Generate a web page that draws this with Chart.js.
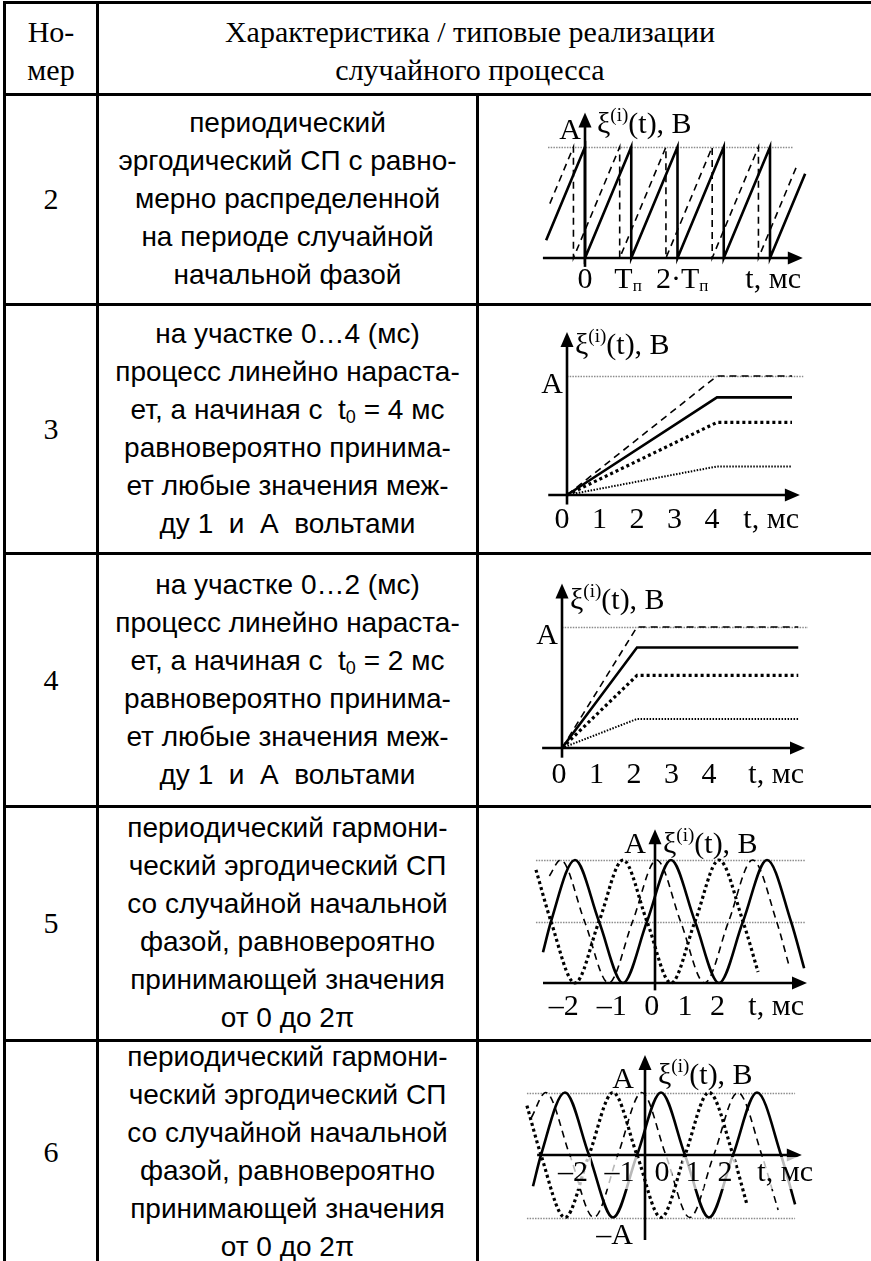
<!DOCTYPE html>
<html>
<head>
<meta charset="utf-8">
<script src="https://cdn.jsdelivr.net/npm/chart.js@4/dist/chart.umd.min.js"></script>
<style>
  body { margin: 0; background: #fff; width: 871px; height: 1261px; overflow: hidden; position: relative; }
  .ln { position: absolute; background: #000; }
  .num { position: absolute; left: 4px; width: 94px; display: flex; align-items: center; justify-content: center;
         font: 30px "Liberation Serif", serif; }
  .desc { position: absolute; left: 98px; width: 379px; display: flex; flex-direction: column; align-items: center;
          justify-content: center; font: 28px "Liberation Sans", sans-serif; line-height: 38px; text-align: center; }
  .desc sub { font-size: 18px; vertical-align: -4px; line-height: 0; }
  .head { position: absolute; font: 30px "Liberation Serif", serif; line-height: 38px; text-align: center; }
  canvas { position: absolute; }
</style>
</head>
<body>

<div class="head" style="left:4px;top:13px;width:94px;">Но-<br>мер</div>
<div class="head" style="left:98px;top:13px;width:744px;">Характеристика / типовые реализации<br>случайного процесса</div>

<div class="num" style="top:94px;height:210px;">2</div>
<div class="desc" style="top:94px;height:210px;">
  <div>периодический</div><div>эргодический СП с равно-</div><div>мерно распределенной</div>
  <div>на периоде случайной</div><div>начальной фазой</div>
</div>

<div class="num" style="top:304px;height:249px;">3</div>
<div class="desc" style="top:304px;height:249px;">
  <div>на участке 0…4 (мс)</div><div>процесс линейно нараста-</div>
  <div>ет, а начиная с&nbsp; t<sub>0</sub> = 4 мс</div><div>равновероятно принима-</div>
  <div>ет любые значения меж-</div><div>ду 1&nbsp; и&nbsp; А&nbsp; вольтами</div>
</div>

<div class="num" style="top:553px;height:253px;">4</div>
<div class="desc" style="top:553px;height:253px;">
  <div>на участке 0…2 (мс)</div><div>процесс линейно нараста-</div>
  <div>ет, а начиная с&nbsp; t<sub>0</sub> = 2 мс</div><div>равновероятно принима-</div>
  <div>ет любые значения меж-</div><div>ду 1&nbsp; и&nbsp; А&nbsp; вольтами</div>
</div>

<div class="num" style="top:806px;height:234px;">5</div>
<div class="desc" style="top:806px;height:234px;">
  <div>периодический гармони-</div><div>ческий эргодический СП</div><div>со случайной начальной</div>
  <div>фазой, равновероятно</div><div>принимающей значения</div><div>от 0 до 2π</div>
</div>

<div class="num" style="top:1040px;height:224px;">6</div>
<div class="desc" style="top:1040px;height:224px;">
  <div>периодический гармони-</div><div>ческий эргодический СП</div><div>со случайной начальной</div>
  <div>фазой, равновероятно</div><div>принимающей значения</div><div>от 0 до 2π</div>
</div>

<canvas id="f2" width="391" height="205" style="left:480px;top:97px;"></canvas>
<canvas id="f3" width="391" height="244" style="left:480px;top:307px;"></canvas>
<canvas id="f4" width="391" height="248" style="left:480px;top:556px;"></canvas>
<canvas id="f5" width="391" height="229" style="left:480px;top:809px;"></canvas>
<canvas id="f6" width="391" height="218" style="left:480px;top:1043px;"></canvas>

<!-- линии таблицы -->
<div class="ln" style="left:3px;top:1px;width:868px;height:3px;"></div>
<div class="ln" style="left:3px;top:93px;width:868px;height:3px;"></div>
<div class="ln" style="left:3px;top:303px;width:868px;height:3px;"></div>
<div class="ln" style="left:3px;top:552px;width:868px;height:3px;"></div>
<div class="ln" style="left:3px;top:805px;width:868px;height:3px;"></div>
<div class="ln" style="left:3px;top:1039px;width:868px;height:3px;"></div>
<div class="ln" style="left:3px;top:1px;width:3px;height:1260px;"></div>
<div class="ln" style="left:96px;top:1px;width:3px;height:1260px;"></div>
<div class="ln" style="left:476px;top:94px;width:3px;height:1167px;"></div>

<script>
// ---- строка 2: пилообразный СП (t в периодах Tп, значения в долях A) ----
const sawSolidT = [-0.84, 0, 0, 1, 1, 2, 2, 3, 3, 4, 4, 4.76];
const sawSolidV = [0.16, 1, 0, 1, 0, 1, 0, 1, 0, 1, 0, 0.76];
const sawDashT = [-0.76, -0.25, -0.25, 0.75, 0.75, 1.75, 1.75, 2.75, 2.75, 3.75, 3.75, 4.58];
const sawDashV = [0.49, 1, 0, 1, 0, 1, 0, 1, 0, 1, 0, 0.83];
const sawTicks = [0, 0.93, 2.1];
const sawTickLabels = ['0', 'T_п', '2·T_п'];

// ---- строка 3: рост до t0 = 4 мс ----
const ramp4T = [0, 4, 6];
const ramp4Dash = [0, 1, 1];
const ramp4Solid = [0, 0.82, 0.82];
const ramp4DotBold = [0, 0.61, 0.61];
const ramp4DotFine = [0, 0.24, 0.24];

// ---- строка 4: рост до t0 = 2 мс ----
const ramp2T = [0, 2, 6.3];
const ramp2Dash = [0, 1, 1];
const ramp2Solid = [0, 0.83, 0.83];
const ramp2DotBold = [0, 0.6, 0.6];
const ramp2DotFine = [0, 0.24, 0.24];
const rampTicks = [0, 1, 2, 3, 4];
const rampTickLabels = ['0', '1', '2', '3', '4'];

// ---- строка 5: гармонический СП, 0..A (узловые точки кривых) ----
const harmSolidT = [-3.5, -3.25, -2.5, -1.75, -1, -0.25, 0.5, 1.25, 2, 2.75, 3.5, 4.25, 4.66];
const harmSolidV = [0.25, 0.5, 1, 0.5, 0, 0.5, 1, 0.5, 0, 0.5, 1, 0.5, 0.12];
const harmDashT = [-3.3, -2.95, -2.2, -1.45, -0.7, 0.05, 0.8, 1.55, 2.3, 3.05, 3.8, 4.19];
const harmDashV = [0.87, 1, 0.5, 0, 0.5, 1, 0.5, 0, 0.5, 1, 0.5, 0.14];
const harmDotT = [-3.72, -3.25, -2.5, -1.75, -1, -0.25, 0.5, 1.25, 2, 2.75, 3.22];
const harmDotV = [0.92, 0.5, 0, 0.5, 1, 0.5, 0, 0.5, 1, 0.5, 0.09];
// подписи на оси стоят не равномерно — места
const harmTicks = [-2.85, -1.35, -0.1, 0.94, 1.95];
const harmTickLabels = ['–2', '–1', '0', '1', '2'];

// ---- строка 6: гармонический СП, –A..A ----
const symSolidT = [-4, -3.75, -3, -2.25, -1.5, -0.75, 0, 0.75, 1.5, 2.25, 3, 3.75, 4.19];
const symSolidV = [-0.5, 0, 1, 0, -1, 0, 1, 0, -1, 0, 1, 0, -0.79];
const symDashT = [-4.05, -3.6, -2.85, -2.1, -1.35, -0.6, 0.15, 0.9, 1.65, 2.4, 3.15, 3.66];
const symDashV = [0.6, 1, 0, -1, 0, 1, 0, -1, 0, 1, 0, -0.88];
const symDotT = [-4.19, -3.75, -3, -2.25, -1.5, -0.75, 0, 0.75, 1.5, 2.25, 2.69];
const symDotV = [0.79, 0, -1, 0, 1, 0, -1, 0, 1, 0, -0.8];
const symTicks = [-2.75, -1.3, 0.03, 1.0, 2.0];
const symTickLabels = ['–2', '–1', '0', '1', '2'];

const STY = {
  solid:   { borderWidth: 2.6, borderDash: [] },
  dash:    { borderWidth: 1.6, borderDash: [7, 5] },
  dotBold: { borderWidth: 3.2, borderDash: [3, 3] },
  dotFine: { borderWidth: 2, borderDash: [1.5, 1.5] }
};
const FONT = '"Liberation Serif", "Times New Roman", serif';

// текст с индексом: 'T_п' -> T и нижний индекс п
function richWidth(ctx, s) {
  const [a, b] = s.split('_');
  ctx.font = '30px ' + FONT;
  let w = ctx.measureText(a).width;
  if (b) { ctx.font = '17px ' + FONT; w += ctx.measureText(b).width; }
  return w;
}
function richText(ctx, s, x, y) {
  const [a, b] = s.split('_');
  ctx.font = '30px ' + FONT;
  ctx.fillText(a, x, y);
  if (b) {
    const w = ctx.measureText(a).width;
    ctx.font = '17px ' + FONT;
    ctx.fillText(b, x + w, y + 3);
  }
}

const figPlugin = {
  id: 'fig',
  beforeDatasetsDraw(chart) {
    const g = chart.options.plugins.fig;
    const ctx = chart.ctx, xs = chart.scales.x, ys = chart.scales.y;
    ctx.save();
    ctx.strokeStyle = '#8c8c8c';
    ctx.lineWidth = 1.3;
    ctx.setLineDash([1.5, 1.2]);
    g.refs.forEach(v => {
      const y = Math.round(ys.getPixelForValue(v)) + 0.5;
      ctx.beginPath();
      ctx.moveTo(xs.getPixelForValue(g.refFrom), y);
      ctx.lineTo(xs.getPixelForValue(g.refTo), y);
      ctx.stroke();
    });
    ctx.restore();
  },
  afterDatasetsDraw(chart) {
    const g = chart.options.plugins.fig;
    const ctx = chart.ctx, xs = chart.scales.x, ys = chart.scales.y;
    const L = g.box[0], T = g.box[1];
    ctx.save();
    ctx.fillStyle = '#000';
    ctx.strokeStyle = '#000';
    ctx.lineWidth = 2.6;
    ctx.setLineDash([]);
    // ось t
    const y0 = ys.getPixelForValue(0);
    const xa = xs.getPixelForValue(g.xAxis[0]), xb = xs.getPixelForValue(g.xAxis[1]);
    ctx.beginPath(); ctx.moveTo(xa, y0); ctx.lineTo(xb - 10, y0); ctx.stroke();
    ctx.beginPath(); ctx.moveTo(xb, y0); ctx.lineTo(xb - 15, y0 - 6.5); ctx.lineTo(xb - 15, y0 + 6.5); ctx.closePath(); ctx.fill();
    // ось ξ
    const x0 = xs.getPixelForValue(g.yAxisAt);
    const ya = ys.getPixelForValue(g.yAxis[0]), yb = ys.getPixelForValue(g.yAxis[1]);
    ctx.beginPath(); ctx.moveTo(x0, ya); ctx.lineTo(x0, yb + 10); ctx.stroke();
    ctx.beginPath(); ctx.moveTo(x0, yb); ctx.lineTo(x0 - 6.5, yb + 15); ctx.lineTo(x0 + 6.5, yb + 15); ctx.closePath(); ctx.fill();

    // подписи делений
    ctx.textBaseline = 'alphabetic';
    ctx.textAlign = 'left';
    const tb = g.tickBase - T;
    g.ticks.forEach((v, i) => {
      const s = g.tickLabels[i];
      const w = richWidth(ctx, s);
      const cx = xs.getPixelForValue(v) + g.tickDx;
      if (g.labelBg) {
        ctx.fillStyle = 'rgba(255,255,255,0.72)';
        ctx.fillRect(cx - w / 2 - 3, tb - 24, w + 6, 32);
        ctx.fillStyle = '#000';
      }
      richText(ctx, s, cx - w / 2, tb);
    });
    ctx.font = '30px ' + FONT;
    ctx.textAlign = 'right';
    if (g.labelBg) {
      const w = ctx.measureText('t, мс').width;
      ctx.fillStyle = 'rgba(255,255,255,0.72)';
      ctx.fillRect(g.tLabel[0] - L - w - 3, g.tLabel[1] - T - 24, w + 6, 32);
      ctx.fillStyle = '#000';
    }
    ctx.fillText('t, мс', g.tLabel[0] - L, g.tLabel[1] - T);

    // метки уровней A / –A
    g.levels.forEach(a => ctx.fillText(a[0], a[1] - L, a[2] - T));

    // ξ(i)(t), В
    ctx.textAlign = 'left';
    let x = g.xi[0] - L;
    const y = g.xi[1] - T;
    ctx.font = '30px ' + FONT; ctx.fillText('ξ', x, y); x += ctx.measureText('ξ').width;
    ctx.font = '19px ' + FONT; ctx.fillText('(i)', x, y - 12); x += ctx.measureText('(i)').width;
    ctx.font = '30px ' + FONT; ctx.fillText('(t), В', x, y);
    ctx.restore();
  }
};

function figure(id, g, series, smooth) {
  const cv = document.getElementById(id);
  const W = cv.width, H = cv.height;
  const L = parseFloat(cv.style.left), T = parseFloat(cv.style.top);
  g.box = [L, T];
  new Chart(cv, {
    type: 'line',
    data: {
      datasets: series.map(s => ({
        data: s.t.map((t, i) => ({ x: t, y: s.v[i] })),
        borderColor: '#000',
        borderWidth: STY[s.style].borderWidth,
        borderDash: STY[s.style].borderDash,
        borderCapStyle: 'butt',
        fill: false,
        pointRadius: 0,
        tension: 0,
        cubicInterpolationMode: smooth ? 'monotone' : 'default'
      }))
    },
    options: {
      responsive: false,
      animation: false,
      devicePixelRatio: 1,
      layout: { padding: 0 },
      scales: {
        x: { type: 'linear', display: false, min: (L - g.x0) / g.xu, max: (L + W - g.x0) / g.xu },
        y: { type: 'linear', display: false, min: (g.y0 - T - H) / g.yu, max: (g.y0 - T) / g.yu }
      },
      plugins: { legend: { display: false }, tooltip: { enabled: false }, fig: g }
    },
    plugins: [figPlugin]
  });
}

figure('f2', {
  x0: 585, xu: 46.25, y0: 258, yu: 111,
  xAxis: [-0.91, 4.71], yAxisAt: 0, yAxis: [-0.08, 1.31],
  refs: [1], refFrom: -0.8, refTo: 4.5,
  ticks: sawTicks, tickLabels: sawTickLabels, tickDx: 0, tickBase: 288,
  tLabel: [801, 288], xi: [597, 133], levels: [['A', 581, 139]]
}, [
  { t: sawDashT, v: sawDashV, style: 'dash' },
  { t: sawSolidT, v: sawSolidV, style: 'solid' }
], false);

figure('f3', {
  x0: 567, xu: 37.5, y0: 495, yu: 119,
  xAxis: [-0.5, 6.21], yAxisAt: 0, yAxis: [-0.08, 1.37],
  refs: [1], refFrom: 0, refTo: 6.3,
  ticks: rampTicks, tickLabels: rampTickLabels, tickDx: -5, tickBase: 528,
  tLabel: [799, 528], xi: [575, 354], levels: [['A', 563, 393]]
}, [
  { t: ramp4T, v: ramp4DotFine, style: 'dotFine' },
  { t: ramp4T, v: ramp4DotBold, style: 'dotBold' },
  { t: ramp4T, v: ramp4Dash, style: 'dash' },
  { t: ramp4T, v: ramp4Solid, style: 'solid' }
], false);

figure('f4', {
  x0: 562, xu: 37.5, y0: 748, yu: 121,
  xAxis: [-0.53, 6.48], yAxisAt: 0, yAxis: [-0.08, 1.36],
  refs: [1], refFrom: 0, refTo: 6.56,
  ticks: rampTicks, tickLabels: rampTickLabels, tickDx: -3, tickBase: 783,
  tLabel: [804, 783], xi: [570, 609], levels: [['A', 558, 644]]
}, [
  { t: ramp2T, v: ramp2DotFine, style: 'dotFine' },
  { t: ramp2T, v: ramp2DotBold, style: 'dotBold' },
  { t: ramp2T, v: ramp2Dash, style: 'dash' },
  { t: ramp2T, v: ramp2Solid, style: 'solid' }
], false);

figure('f5', {
  x0: 655, xu: 32, y0: 983, yu: 123,
  xAxis: [-3.5, 4.75], yAxisAt: 0, yAxis: [-0.06, 1.25],
  refs: [1, 0.5], refFrom: -3.72, refTo: 4.7,
  ticks: harmTicks, tickLabels: harmTickLabels, tickDx: 0, tickBase: 1015,
  tLabel: [804, 1015], xi: [663, 853], levels: [['A', 646, 853]]
}, [
  { t: harmDotT, v: harmDotV, style: 'dotBold' },
  { t: harmDashT, v: harmDashV, style: 'dash' },
  { t: harmSolidT, v: harmSolidV, style: 'solid' }
], true);

figure('f6', {
  x0: 661, xu: 32, y0: 1155, yu: 62.5,
  xAxis: [-3.87, 4.4], yAxisAt: -0.5, yAxis: [-1.36, 1.6],
  refs: [1, -1], refFrom: -4.19, refTo: 4.19, labelBg: true,
  ticks: symTicks, tickLabels: symTickLabels, tickDx: 0, tickBase: 1181,
  tLabel: [813, 1181], xi: [658, 1084], levels: [['A', 634, 1088], ['–A', 633, 1244]]
}, [
  { t: symDotT, v: symDotV, style: 'dotBold' },
  { t: symDashT, v: symDashV, style: 'dash' },
  { t: symSolidT, v: symSolidV, style: 'solid' }
], true);
</script>
</body>
</html>
